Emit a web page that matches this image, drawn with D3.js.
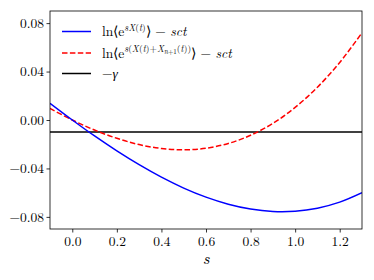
<!DOCTYPE html>
<html>
<head>
<meta charset="utf-8">
<script src="https://cdn.jsdelivr.net/npm/d3@7"></script>
<style>
  body { margin: 0; background: #fff; }
</style>
</head>
<body>
<div id="chart"></div>
<script>
// values
const sValues = [-0.1, 0, 0.1, 0.2, 0.3, 0.4, 0.5, 0.6, 0.7, 0.8, 0.9, 1.0, 1.1, 1.2, 1.3];
const lnSingle = [0.0138, 0, -0.0132, -0.0255, -0.0369, -0.0472, -0.0562, -0.0637, -0.0695, -0.0735, -0.0755, -0.0753, -0.0728, -0.0678, -0.0600];
const lnPair = [0.0095, 0, -0.0083, -0.0151, -0.0203, -0.0235, -0.0246, -0.0233, -0.0194, -0.0126, -0.0028, 0.0104, 0.0271, 0.0475, 0.0720];
const minusGamma = -0.01;
const xTicks = [0, 0.2, 0.4, 0.6, 0.8, 1.0, 1.2];
const yTicks = [-0.08, -0.04, 0, 0.04, 0.08];

const font = '"Latin Modern Roman", "Liberation Serif", serif';
const w = 374, h = 280;
const margin = {top: 11, right: 12, bottom: 51, left: 50};
const iw = w - margin.left - margin.right;
const ih = h - margin.top - margin.bottom;

const svg = d3.select('#chart').append('svg')
    .attr('width', w)
    .attr('height', h)
    .attr('font-family', font);

const g = svg.append('g')
    .attr('transform', 'translate(' + margin.left + ',' + margin.top + ')');

const x = d3.scaleLinear().domain([-0.1, 1.3]).range([0, iw]);
const y = d3.scaleLinear().domain([-0.09, 0.09]).range([ih, 0]);

g.append('clipPath').attr('id', 'clip')
    .append('rect').attr('width', iw).attr('height', ih);

const line = d3.line()
    .x((d, i) => x(sValues[i]))
    .y(d => y(d))
    .curve(d3.curveCatmullRom);

const plot = g.append('g').attr('clip-path', 'url(#clip)');

plot.append('line')
    .attr('x1', 0).attr('x2', iw)
    .attr('y1', y(minusGamma)).attr('y2', y(minusGamma))
    .attr('stroke', '#000').attr('stroke-width', 1.5);

plot.append('path')
    .datum(lnPair)
    .attr('d', line)
    .attr('fill', 'none')
    .attr('stroke', '#ff0000')
    .attr('stroke-width', 1.5)
    .attr('stroke-dasharray', '5.5,2.4');

plot.append('path')
    .datum(lnSingle)
    .attr('d', line)
    .attr('fill', 'none')
    .attr('stroke', '#0000ff')
    .attr('stroke-width', 1.5);

// axes
const xAxis = g.append('g')
    .attr('transform', 'translate(0,' + ih + ')')
    .call(d3.axisBottom(x).tickValues(xTicks).tickFormat(d3.format('.1f')).tickSize(3.5).tickPadding(3.5));
const yAxis = g.append('g')
    .call(d3.axisLeft(y).tickValues(yTicks).tickFormat(d3.format('.2f')).tickSize(3.5).tickPadding(2.5));

[xAxis, yAxis].forEach(a => {
    a.attr('font-family', font).attr('font-size', 13.5);
    a.select('.domain').remove();
    a.selectAll('line').attr('stroke', '#000').attr('stroke-width', 0.8);
    a.selectAll('text').attr('fill', '#000').attr('font-family', font);
});

g.append('rect')
    .attr('width', iw).attr('height', ih)
    .attr('fill', 'none')
    .attr('stroke', '#000')
    .attr('stroke-width', 0.8);

g.append('text')
    .attr('x', x(0.6))
    .attr('y', ih + 34.5)
    .attr('text-anchor', 'middle')
    .attr('font-size', 16.5)
    .attr('font-style', 'italic')
    .attr('font-family', font)
    .text('s');

// legend
const legend = g.append('g').attr('transform', 'translate(12,0)');
const legendRows = [
    {color: '#0000ff', dash: null, y: 20.5},
    {color: '#ff0000', dash: '5.5,2.4', y: 42},
    {color: '#000', dash: null, y: 62.5}
];
legend.selectAll('line')
    .data(legendRows)
    .enter()
    .append('line')
    .attr('x1', 0).attr('x2', 29)
    .attr('y1', d => d.y).attr('y2', d => d.y)
    .attr('stroke', d => d.color)
    .attr('stroke-width', 1.5)
    .attr('stroke-dasharray', d => d.dash);

function addRun(t, parts) {
    parts.forEach(p => {
        const s = t.append('tspan').text(p[0]);
        if (p[1]) s.attr('font-style', 'italic');
        if (p[2]) s.attr('font-size', p[2]);
        if (p[3]) s.attr('dy', p[3]);
    });
}

function legendText(row) {
    return legend.append('text')
        .attr('x', 40)
        .attr('y', row.y + 4.5)
        .attr('font-size', 13.5)
        .attr('font-family', font)
        .attr('fill', '#000');
}

const t1 = legendText(legendRows[0]);
addRun(t1, [
    ['ln\u27E8e', false],
    ['s', true, 9.5, -5.5], ['X', true, 9.5], ['(', false, 9.5], ['t', true, 9.5], [')', false, 9.5],
    ['\u27E9 \u2212 ', false, 13.5, 5.5], ['sct', true]
]);

const t2 = legendText(legendRows[1]);
addRun(t2, [
    ['ln\u27E8e', false],
    ['s', true, 9.5, -5.5], ['(', false, 9.5], ['X', true, 9.5], ['(', false, 9.5], ['t', true, 9.5], [')+', false, 9.5], ['X', true, 9.5],
    ['n', true, 7, 2], ['+1', false, 7],
    ['(', false, 9.5, -2], ['t', true, 9.5], ['))', false, 9.5],
    ['\u27E9 \u2212 ', false, 13.5, 5.5], ['sct', true]
]);

const t3 = legendText(legendRows[2]);
addRun(t3, [['\u2212', false], ['\u03B3', true]]);
</script>
</body>
</html>
